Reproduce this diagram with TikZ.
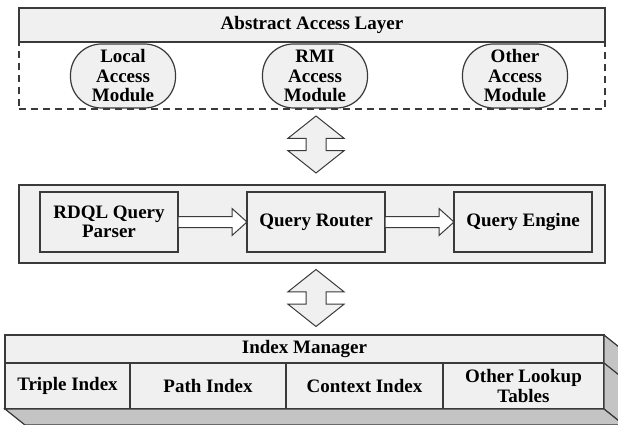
\documentclass[tikz,border=0pt]{standalone}
\usepackage{fontspec}
\setmainfont{Liberation Serif}
\usepackage{tikz}
\usetikzlibrary{shapes}
\usetikzlibrary{arrows}
\usetikzlibrary{positioning}
\definecolor{boxfill}{HTML}{F0F0F0}
\definecolor{boxline}{HTML}{3A3A3A}
\definecolor{sidefill}{HTML}{C4C4C4}
\tikzset{
	main node/.style={rectangle,draw=boxline,fill=boxfill,line width=1.2pt,align=center,
		font=\bfseries\fontsize{19}{19.5}\selectfont,inner sep=0pt,outer sep=0pt},
	module node/.style={main node,rounded corners=31pt,minimum width=105pt,minimum height=64pt},
	box node/.style={main node,minimum width=138pt,minimum height=60pt},
	cell node/.style={main node,minimum height=46pt},
	flow arrow/.style={single arrow,draw=boxline,fill=white,line width=1pt,inner sep=5pt,outer sep=0pt,
		minimum width=26pt,single arrow head extend=8pt,single arrow tip angle=84,minimum height=69pt},
	link arrow/.style={double arrow,shape border rotate=90,draw=boxline,fill=boxfill,line width=1pt,
		inner sep=9.5pt,outer sep=0pt,minimum height=57pt,double arrow head extend=18pt,double arrow tip angle=103}
}

\begin{document}
\begin{tikzpicture}[x=1pt,y=-1pt]
            \clip (0,0) rectangle (618,425);
            \node [main node,fill=white,dash pattern=on 7pt off 5pt,minimum width=586pt,minimum height=67pt] (2) at (312,75.5) {};
            \node [main node,minimum width=586pt,minimum height=34pt] (1) at (312,25) {Abstract Access Layer};
            \node [module node] (3) at (123,76) {Local\\Access\\Module};
            \node [module node] (4) at (315,76) {RMI\\Access\\Module};
            \node [module node] (5) at (515,76) {Other\\Access\\Module};
            \node [link arrow] (6) at (316,144.5) {};

            \node [main node,minimum width=586pt,minimum height=78pt] (7) at (312,224) {};
            \node [box node] (8) at (109,222) {RDQL Query\\Parser};
            \node [box node,right=69pt of 8] (9) {Query Router};
            \node [box node,right=69pt of 9] (10) {Query Engine};
            \node [flow arrow,right=0pt of 8] (11) {};
            \node [flow arrow,right=0pt of 9] (12) {};
            \node [link arrow] (13) at (316,298) {};

            \node [main node,minimum width=599pt,minimum height=28pt] (14) at (304.5,349) {Index Manager};
            \node [cell node,minimum width=125pt,anchor=north west] (15) at (14.south west) {Triple Index};
            \node [cell node,minimum width=156pt,right=0pt of 15] (16) {Path Index};
            \node [cell node,minimum width=157pt,right=0pt of 16] (17) {Context Index};
            \node [cell node,minimum width=161pt,right=0pt of 17] (18) {Other Lookup\\Tables};
            \filldraw [fill=sidefill,draw=boxline,line width=1.2pt] (14.north east) -- ++(20,16) -- ++(0,74) -- (18.south east) -- cycle;
            \filldraw [fill=sidefill,draw=boxline,line width=1.2pt] (15.south west) -- ++(20,16) -- ++(599,0) -- (18.south east) -- cycle;
            \draw [draw=boxline,line width=1.2pt] (14.south east) -- ++(20,16);
\end{tikzpicture}
\end{document}
